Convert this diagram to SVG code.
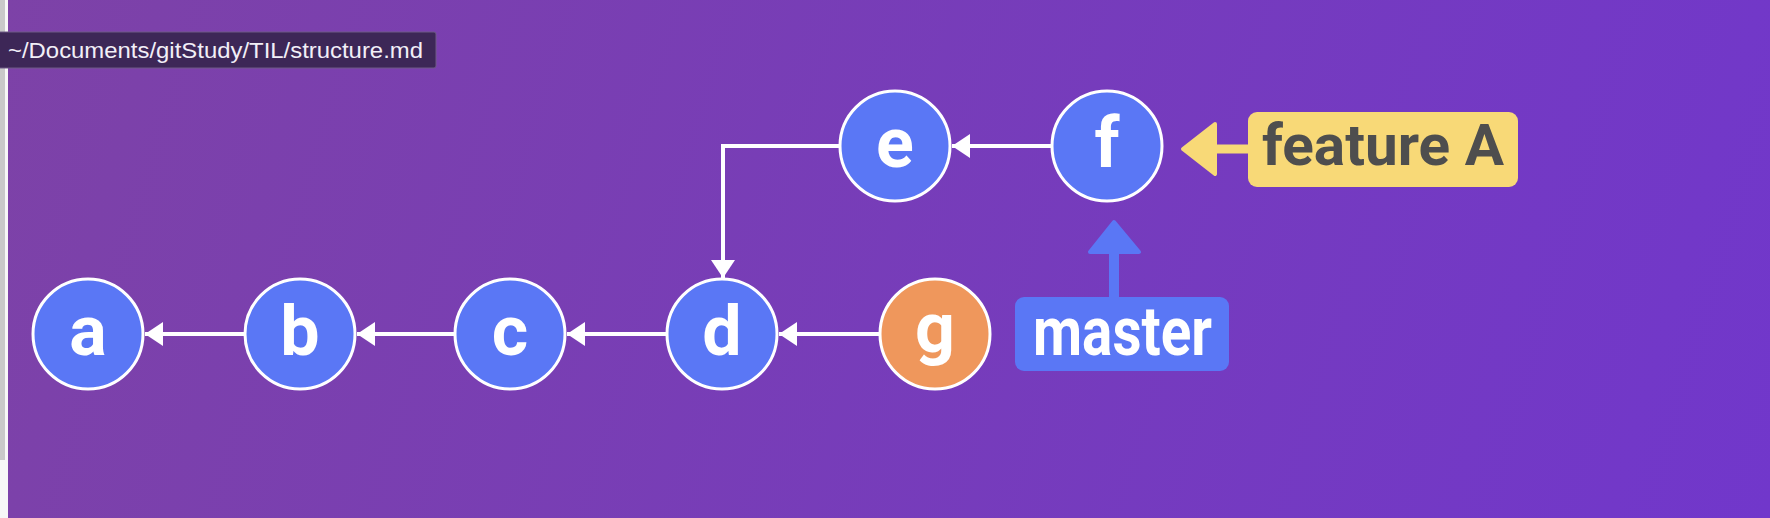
<svg xmlns="http://www.w3.org/2000/svg" width="1770" height="518" viewBox="0 0 1770 518">
<defs>
<linearGradient id="bg" gradientUnits="userSpaceOnUse" x1="0" y1="0" x2="1770" y2="518">
<stop offset="0" stop-color="#7d42a7"/>
<stop offset="1" stop-color="#7137cb"/>
</linearGradient>
<marker id="wa" markerUnits="userSpaceOnUse" markerWidth="20" markerHeight="26" refX="18" refY="13" orient="auto">
<path d="M0,1 L18,13 L0,25 Z" fill="#ffffff"/>
</marker>
<style>
.node{stroke:#ffffff;stroke-width:3}
.blue{fill:#5a77f5}
.orange{fill:#ef975c}
.lbl{font-family:Roboto,"Liberation Sans",sans-serif;font-weight:bold;font-size:70px;fill:#ffffff;text-anchor:middle}
.edge{stroke:#ffffff;stroke-width:4;fill:none}
</style>
</defs>
<rect width="1770" height="518" fill="url(#bg)"/>
<rect x="0" y="0" width="8" height="518" fill="#f7f7f7"/>
<rect x="0" y="0" width="5" height="460" fill="#c9c9c9"/>
<g id="tooltip">
<rect x="-2" y="32" width="438" height="36" rx="2" fill="#3d2757" stroke="#6e5b86" stroke-width="1"/>
<text x="8" y="58" font-family="Liberation Sans, Arial, sans-serif" font-size="22" fill="#f2eff7" textLength="415" lengthAdjust="spacingAndGlyphs">~/Documents/gitStudy/TIL/structure.md</text>
</g>
<g id="connectors">
<line class="edge" x1="245" y1="334" x2="145" y2="334" marker-end="url(#wa)"/>
<line class="edge" x1="455" y1="334" x2="357" y2="334" marker-end="url(#wa)"/>
<line class="edge" x1="667" y1="334" x2="567" y2="334" marker-end="url(#wa)"/>
<line class="edge" x1="880" y1="334" x2="779" y2="334" marker-end="url(#wa)"/>
<line class="edge" x1="1052" y1="146" x2="952" y2="146" marker-end="url(#wa)"/>
<path class="edge" d="M840,146 L723,146 L723,278" marker-end="url(#wa)"/>
<g id="featureA-pointer">
<line x1="1250" y1="149" x2="1210" y2="149" stroke="#f8d977" stroke-width="9"/>
<path d="M1215,124 L1183,149 L1215,174 Z" fill="#f8d977" stroke="#f8d977" stroke-width="4" stroke-linejoin="round"/>
</g>
<g id="master-pointer">
<line x1="1114" y1="298" x2="1114" y2="248" stroke="#5a77f5" stroke-width="10"/>
<path d="M1090,252 L1114,222 L1139,252 Z" fill="#5a77f5" stroke="#5a77f5" stroke-width="4" stroke-linejoin="round"/>
</g>
</g>
<g id="node-a"><circle class="node blue" cx="88" cy="334" r="55"/><text class="lbl" x="88" y="355">a</text></g>
<g id="node-b"><circle class="node blue" cx="300" cy="334" r="55"/><text class="lbl" x="300" y="355">b</text></g>
<g id="node-c"><circle class="node blue" cx="510" cy="334" r="55"/><text class="lbl" x="510" y="355">c</text></g>
<g id="node-d"><circle class="node blue" cx="722" cy="334" r="55"/><text class="lbl" x="722" y="355">d</text></g>
<g id="node-g"><circle class="node orange" cx="935" cy="334" r="55"/><text class="lbl" x="935" y="352">g</text></g>
<g id="node-e"><circle class="node blue" cx="895" cy="146" r="55"/><text class="lbl" x="895" y="167">e</text></g>
<g id="node-f"><circle class="node blue" cx="1107" cy="146" r="55"/><text class="lbl" x="1107" y="167">f</text></g>
<g id="label-featureA">
<rect x="1248" y="112" width="270" height="75" rx="9" fill="#f8d977"/>
<text x="1262" y="165" font-family="Roboto, Liberation Sans, sans-serif" font-weight="bold" font-size="58" fill="#4e4e4e" textLength="242" lengthAdjust="spacingAndGlyphs">feature A</text>
</g>
<g id="label-master">
<rect x="1015" y="297" width="214" height="74" rx="9" fill="#5a77f5"/>
<text x="1033" y="355" font-family="Roboto, Liberation Sans, sans-serif" font-weight="bold" font-size="68" fill="#ffffff" textLength="179" lengthAdjust="spacingAndGlyphs">master</text>
</g>
</svg>
